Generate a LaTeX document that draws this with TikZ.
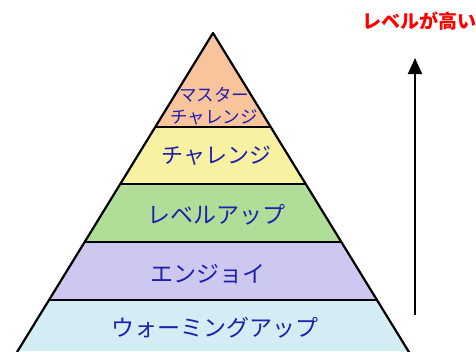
\documentclass[tikz,border=0pt]{standalone}
\usepackage{fontspec}
\newfontfamily\jp{Noto Sans CJK JP}
\usetikzlibrary{arrows.meta}
\usetikzlibrary{calc}
\usetikzlibrary{positioning}
\definecolor{peach}{RGB}{248,196,156}
\definecolor{lemon}{RGB}{247,241,162}
\definecolor{leaf}{RGB}{176,222,152}
\definecolor{lilac}{RGB}{204,200,240}
\definecolor{sky}{RGB}{212,236,244}
\definecolor{ink}{RGB}{32,32,172}
\begin{document}
\begin{tikzpicture}[x=1pt,y=-1pt,semithick]
 \tikzstyle{edge}=[draw=black,line width=2.2pt,line join=round]
 \tikzstyle{sep}=[draw=black,line width=1.8pt]
 \tikzstyle{lbl}=[text=ink,inner sep=0pt,font=\jp\fontsize{23}{23}\selectfont]
 \useasboundingbox (0,0) rectangle (476,351);
 \clip (0,0) rectangle (476,351);
 % corners of the pyramid
 \coordinate (T) at (213,33);
 \coordinate (L) at (17.7,351);
 \coordinate (R) at (408.3,351);
 % layers, top to bottom
 \fill[peach] (T) -- ($(T)!0.2956!(R)$) -- ($(T)!0.2956!(L)$) -- cycle;
 \fill[lemon] ($(T)!0.2956!(L)$) -- ($(T)!0.2956!(R)$) -- ($(T)!0.4748!(R)$) -- ($(T)!0.4748!(L)$) -- cycle;
 \fill[leaf] ($(T)!0.4748!(L)$) -- ($(T)!0.4748!(R)$) -- ($(T)!0.6572!(R)$) -- ($(T)!0.6572!(L)$) -- cycle;
 \fill[lilac] ($(T)!0.6572!(L)$) -- ($(T)!0.6572!(R)$) -- ($(T)!0.8396!(R)$) -- ($(T)!0.8396!(L)$) -- cycle;
 \fill[sky] ($(T)!0.8396!(L)$) -- ($(T)!0.8396!(R)$) -- (R) -- (L) -- cycle;
 \path[sep] ($(T)!0.2956!(L)$) -- ($(T)!0.2956!(R)$)
            ($(T)!0.4748!(L)$) -- ($(T)!0.4748!(R)$)
            ($(T)!0.6572!(L)$) -- ($(T)!0.6572!(R)$)
            ($(T)!0.8396!(L)$) -- ($(T)!0.8396!(R)$);
 \path[edge] ($(T)!1.02!(L)$) -- (T) -- ($(T)!1.02!(R)$);
 % texts
 \node[lbl,align=center,font=\jp\fontsize{17.5}{22}\selectfont] (m) at (214,106) {マスター\\チャレンジ};
 \node[lbl,font=\jp\fontsize{22}{22}\selectfont] (c) at (216.5,155.5) {チャレンジ};
 \node[lbl] (l) at (216.5,215) {レベルアップ};
 \node[lbl] (e) at (208,274) {エンジョイ};
 \node[lbl] (w) at (215,328) {ウォーミングアップ};
 % level arrow
 \coordinate (a0) at (415,315);
 \coordinate (a1) at (415,58);
 \draw[line width=2pt,-{Triangle[length=16pt,width=14pt]}] (a0) -- (a1);
 \node[text=red,inner sep=0pt,font=\jp\bfseries\fontsize{19}{19}\selectfont] (h) at (419,21) {レベルが高い};
\end{tikzpicture}
\end{document}
